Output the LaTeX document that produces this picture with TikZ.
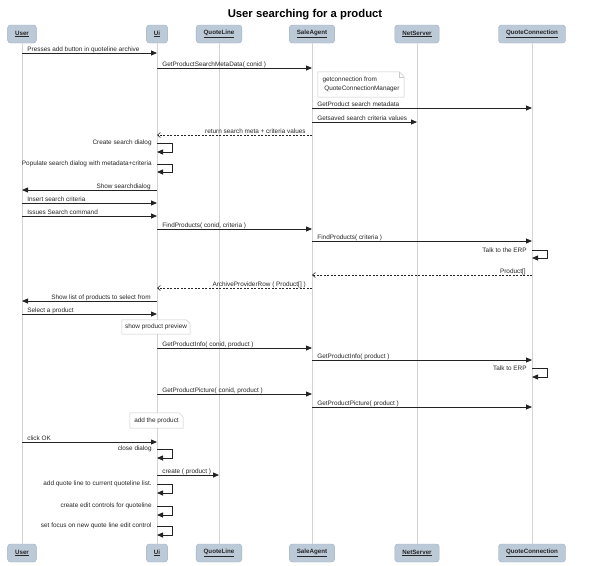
\documentclass[tikz,border=0pt]{standalone}
\usepackage{fontspec}
\setmainfont{Liberation Sans}
\usetikzlibrary{arrows.meta}
\definecolor{actorfill}{RGB}{188,202,216}
\definecolor{actorline}{RGB}{158,176,195}
\definecolor{lifegray}{RGB}{212,212,212}
\definecolor{notegray}{RGB}{200,200,200}
\definecolor{msggray}{RGB}{35,35,35}
\begin{document}
\begin{tikzpicture}[x=1pt,y=-1pt,
    actor/.style={draw=actorline, fill=actorfill, rounded corners=3pt, minimum height=18pt,
      inner xsep=7.5pt, inner ysep=2pt, text=black!85, font=\bfseries\fontsize{6.2}{7}\selectfont},
    life/.style={draw=lifegray, line width=0.6pt},
    call/.style={draw=msggray, line width=0.8pt, -{Triangle[length=6pt,width=5pt]}},
    reply/.style={draw=msggray, line width=0.6pt, dash pattern=on 2pt off 1.5pt,
      -{Straight Barb[length=3pt,width=5pt]}},
    lbl/.style={font=\fontsize{6.4}{7}\selectfont, inner sep=0pt, text=black!85},
    lr/.style={lbl, pos=0, anchor=base west, xshift=5pt, yshift=2pt},
    rl/.style={lbl, pos=0, anchor=base east, xshift=-6pt, yshift=2pt},
    selflbl/.style={lbl, anchor=east, xshift=-5pt},
    note/.style={fill=white, inner sep=0pt, align=left, text=black!85, font=\fontsize{6.4}{8.5}\selectfont},
    noteline/.style={draw=notegray, line width=0.5pt}]
    \fill[white] (0,0) rectangle (605,565);
    \useasboundingbox (0,0) rectangle (605,565);

    \node[font=\bfseries\fontsize{11.3}{13}\selectfont] (title) at (305,14.5) {User searching for a product};

    % actors, top and bottom
    \node[actor] (user) at (22,34) {\underline{User}};
    \node[actor] (ui) at (157,34) {\underline{Ui}};
    \node[actor] (ql) at (219,34) {\underline{QuoteLine}};
    \node[actor] (sa) at (312,34) {\underline{SaleAgent}};
    \node[actor] (ns) at (417,34) {\underline{NetServer}};
    \node[actor] (qc) at (532,34) {\underline{QuoteConnection}};
    \node[actor] (b-user) at (22,553) {\underline{User}};
    \node[actor] (b-ui) at (157,553) {\underline{Ui}};
    \node[actor] (b-ql) at (219,553) {\underline{QuoteLine}};
    \node[actor] (b-sa) at (312,553) {\underline{SaleAgent}};
    \node[actor] (b-ns) at (417,553) {\underline{NetServer}};
    \node[actor] (b-qc) at (532,553) {\underline{QuoteConnection}};
    \foreach \a in {user,ui,ql,sa,ns,qc}
        \draw[life] (\a.south) -- (b-\a.north);

    % opening the search dialog
    \draw[call] (user |- 0,53) -- node[lr] {Presses add button in quoteline archive} (ui |- 0,53);
    \draw[call] (ui |- 0,68) -- node[lr] {GetProductSearchMetaData( conid )} (sa |- 0,68);
    \node[note, minimum width=86pt, minimum height=25pt] (getconn) at (361,84.5)
        {getconnection from\\ \ QuoteConnectionManager};
    \draw[noteline] (getconn.south west) -- (getconn.north west) -- ([xshift=-5pt]getconn.north east)
        -- ([yshift=-5pt]getconn.north east) -- (getconn.south east) -- cycle;
    \draw[noteline] ([xshift=-5pt]getconn.north east) -- ([xshift=-5pt,yshift=-5pt]getconn.north east)
        -- ([yshift=-5pt]getconn.north east);
    \draw[call] (sa |- 0,108) -- node[lr] {GetProduct search metadata} (qc |- 0,108);
    \draw[call] (sa |- 0,122) -- node[lr] {Getsaved search criteria values} (ns |- 0,122);
    \draw[reply] (sa |- 0,135) -- node[rl] {return search meta + criteria values} (ui |- 0,135);
    \draw[call] (ui |- 0,143) node[selflbl] {Create search dialog} -- ++(15,0) -- ++(0,9) -- (ui |- 0,152);
    \draw[call] (ui |- 0,164) node[selflbl] {Populate search dialog with metadata+criteria} -- ++(15,0) -- ++(0,8) -- (ui |- 0,172);
    \draw[call] (ui |- 0,190) -- node[rl] {Show searchdialog} (user |- 0,190);
    \draw[call] (user |- 0,203) -- node[lr] {Insert search criteria} (ui |- 0,203);
    \draw[call] (user |- 0,216) -- node[lr] {Issues Search command} (ui |- 0,216);

    % finding products
    \draw[call] (ui |- 0,229) -- node[lr] {FindProducts( conid, criteria )} (sa |- 0,229);
    \draw[call] (sa |- 0,241) -- node[lr] {FindProducts( criteria )} (qc |- 0,241);
    \draw[call] (qc |- 0,250) node[selflbl] {Talk to the ERP} -- ++(15,0) -- ++(0,8) -- (qc |- 0,258);
    \draw[reply] (qc |- 0,275) -- node[rl] {Product[]} (sa |- 0,275);
    \draw[reply] (sa |- 0,288) -- node[rl] {ArchiveProviderRow ( Product[] )} (ui |- 0,288);
    \draw[call] (ui |- 0,301) -- node[rl] {Show list of products to select from} (user |- 0,301);
    \draw[call] (user |- 0,314) -- node[lr] {Select a product} (ui |- 0,314);

    % product preview
    \node[note, minimum width=68pt, minimum height=14pt] (preview) at (156,327) {show product preview};
    \draw[noteline] (preview.south west) -- (preview.north west) -- ([xshift=-4pt]preview.north east)
        -- ([yshift=-4pt]preview.north east) -- (preview.south east) -- cycle;
    \draw[call] (ui |- 0,348) -- node[lr] {GetProductInfo( conid, product )} (sa |- 0,348);
    \draw[call] (sa |- 0,360) -- node[lr] {GetProductInfo( product )} (qc |- 0,360);
    \draw[call] (qc |- 0,368) node[selflbl] {Talk to ERP} -- ++(15,0) -- ++(0,9) -- (qc |- 0,377);
    \draw[call] (ui |- 0,394) -- node[lr] {GetProductPicture( conid, product )} (sa |- 0,394);
    \draw[call] (sa |- 0,407) -- node[lr] {GetProductPicture( product )} (qc |- 0,407);

    % adding the quote line
    \node[note, minimum width=53pt, minimum height=15pt] (addprod) at (156.5,420.5) {add the product};
    \draw[noteline] (addprod.south west) -- (addprod.north west) -- ([xshift=-4pt]addprod.north east)
        -- ([yshift=-4pt]addprod.north east) -- (addprod.south east) -- cycle;
    \draw[call] (user |- 0,442) -- node[lr] {click OK} (ui |- 0,442);
    \draw[call] (ui |- 0,449) node[selflbl] {close dialog} -- ++(15,0) -- ++(0,9) -- (ui |- 0,458);
    \draw[call] (ui |- 0,475) -- node[lr] {create ( product )} (ql |- 0,475);
    \draw[call] (ui |- 0,484) node[selflbl] {add quote line to current quoteline list.} -- ++(15,0) -- ++(0,9) -- (ui |- 0,493);
    \draw[call] (ui |- 0,506) node[selflbl] {create edit controls for quoteline} -- ++(15,0) -- ++(0,9) -- (ui |- 0,515);
    \draw[call] (ui |- 0,526) node[selflbl] {set focus on new quote line edit control} -- ++(15,0) -- ++(0,9) -- (ui |- 0,535);
\end{tikzpicture}
\end{document}
